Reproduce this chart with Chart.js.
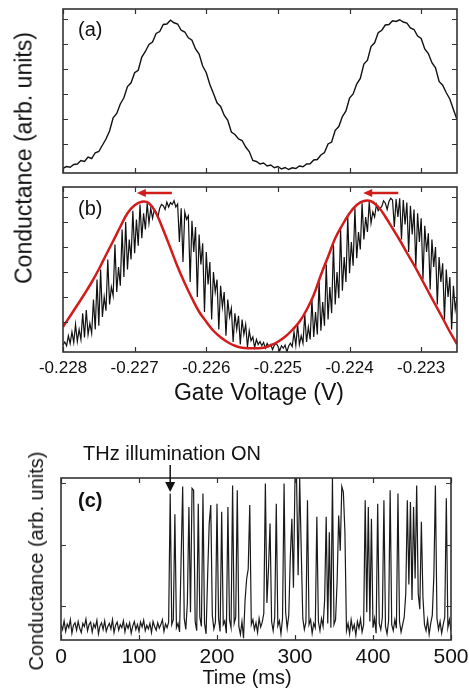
<!DOCTYPE html>
<html>
<head>
<meta charset="utf-8">
<script src="https://cdn.jsdelivr.net/npm/chart.js@4.4.1/dist/chart.umd.min.js"></script>
<style>
  html, body { margin: 0; padding: 0; background: #fff; }
  #fig { position: relative; width: 469px; height: 690px; overflow: hidden;
         font-family: "Liberation Sans", Arial, sans-serif; color: #111; }
  #fig canvas { position: absolute; left: 0; }
  .lbl { position: absolute; white-space: nowrap; line-height: 1; }
  .rot { transform: translate(-50%, -50%) rotate(-90deg); }
  .ctr { transform: translate(-50%, -50%); }
  .lft { transform: translateY(-50%); }
</style>
</head>
<body>
<div id="fig">
  <canvas id="chartA" width="469" height="180" style="top:0"></canvas>
  <canvas id="chartB" width="469" height="205" style="top:180px"></canvas>
  <canvas id="chartC" width="469" height="250" style="top:440px"></canvas>

  <div class="lbl rot" style="left:24px;top:158px;font-size:23px">Conductance (arb. units)</div>
  <div class="lbl ctr" style="left:259px;top:392px;font-size:23px">Gate Voltage (V)</div>
  <div class="lbl lft" style="left:78px;top:29px;font-size:20px">(a)</div>
  <div class="lbl lft" style="left:78px;top:208px;font-size:20px">(b)</div>

  <div class="lbl ctr" style="left:172px;top:453px;font-size:20px">THz illumination ON</div>
  <div class="lbl lft" style="left:78px;top:500px;font-size:20px;font-weight:bold">(c)</div>
  <div class="lbl rot" style="left:36px;top:561px;font-size:20px">Conductance (arb. units)</div>
  <div class="lbl ctr" style="left:247px;top:677px;font-size:20px">Time (ms)</div>
</div>

<script>
// ---- Gate-voltage sweeps (panels a and b) ----
const gateMin = -0.228;
const gateMax = -0.2225;
const gateTicks = [-0.228, -0.227, -0.226, -0.225, -0.224, -0.223];
const conductanceTicks = [0, 1, 2, 3, 4, 5];

// (a) dark conductance, sampled every 0.05 mV
const gateStepDark = 0.00005;
const conductanceDark = [
  -0.97, -0.90, -0.93, -0.82, -0.80, -0.66, -0.70, -0.52, -0.58, -0.35,
  -0.30, -0.05, 0.20, 0.52, 1.05, 1.22, 1.60, 1.85, 2.30, 2.45,
  2.85, 2.95, 3.48, 3.70, 3.98, 4.08, 4.42, 4.50, 4.78, 4.80,
  4.95, 4.85, 4.80, 4.55, 4.48, 4.25, 4.15, 3.80, 3.60, 3.12,
  2.85, 2.38, 2.02, 1.65, 1.50, 1.15, 0.95, 0.48, 0.38, 0.20,
  0.14, -0.12, -0.30, -0.66, -0.70, -0.80, -0.76, -0.88, -0.84, -0.95,
  -0.90, -1.00, -0.94, -1.02, -0.95, -0.98, -0.88, -0.91, -0.80, -0.79,
  -0.64, -0.62, -0.44, -0.34, 0.00, 0.08, 0.55, 0.70, 1.10, 1.32,
  1.84, 2.00, 2.40, 2.62, 3.20, 3.35, 3.90, 4.05, 4.45, 4.55,
  4.76, 4.78, 4.93, 4.90, 4.97, 4.88, 4.84, 4.64, 4.58, 4.32,
  4.22, 3.80, 3.62, 3.25, 3.05, 2.50, 2.35, 2.05, 1.80, 1.38,
  0.98
];

// (b) conductance under THz illumination, sampled every 0.025 mV
const gateStepLit = 0.000025;
const conductanceLit = [
  -0.92, -0.80, -0.95, -0.55, -0.86, -0.40, -0.82, -0.10, -0.78, -0.30,
  -0.70, 0.35, -0.62, 0.48, -0.50, -0.05, -0.45, 0.90, -0.30, 1.70,
  -0.15, 2.10, 0.20, 1.00, 0.45, 2.50, 0.70, 1.40, 1.05, 3.10,
  1.20, 2.20, 1.45, 3.70, 1.80, 4.00, 2.10, 3.30, 2.50, 4.45,
  2.75, 4.10, 3.05, 4.70, 3.35, 4.35, 3.70, 4.75, 3.95, 4.55,
  4.15, 4.50, 4.40, 4.20, 4.55, 4.70, 4.65, 4.50, 4.80, 4.60,
  4.78, 4.70, 4.85, 4.60, 4.72, 3.20, 4.55, 2.40, 4.40, 4.10,
  4.25, 1.60, 4.05, 2.80, 3.80, 1.00, 3.50, 2.30, 3.15, 0.40,
  2.80, 1.50, 2.40, 0.10, 2.00, 1.20, 1.70, -0.30, 1.45, 0.60,
  1.20, -0.55, 0.90, 0.20, 0.55, -0.80, 0.35, -0.30, 0.25, -0.90,
  0.10, -0.50, -0.10, -1.00, -0.35, -0.75, -0.60, -1.02, -0.70, -0.90,
  -0.78, -0.95, -0.82, -1.05, -0.86, -0.98, -0.90, -1.10, -0.93, -0.85,
  -0.97, -1.15, -0.95, -1.05, -0.92, -1.20, -0.96, -0.85, -0.98, -0.40,
  -0.94, -0.10, -0.90, -0.55, -0.85, 0.30, -0.80, -0.20, -0.70, 0.90,
  -0.60, 0.40, -0.50, 1.60, -0.35, 0.80, -0.15, 2.30, 0.10, 1.40,
  0.35, 3.10, 0.70, 2.00, 0.95, 3.70, 1.25, 2.60, 1.60, 4.20,
  1.95, 3.20, 2.25, 4.55, 2.55, 3.60, 2.90, 4.75, 3.30, 4.20,
  3.60, 4.80, 3.95, 4.40, 4.20, 4.70, 4.45, 4.55, 4.62, 4.85,
  4.75, 4.50, 4.82, 4.95, 4.88, 3.80, 4.92, 4.20, 4.95, 3.30,
  4.88, 3.90, 4.78, 2.80, 4.65, 3.50, 4.50, 2.20, 4.35, 3.20,
  4.15, 1.70, 3.85, 2.80, 3.55, 1.30, 3.30, 2.20, 3.00, 0.70,
  2.60, 1.60, 2.35, 0.10, 2.10, 1.00, 1.80, -0.30, 1.45, 0.50,
  1.00
];

// (b) shifted Coulomb peaks (red curve), sampled every 0.1 mV
const gateStepShifted = 0.0001;
const conductanceShifted = [
  -0.19, 0.24, 0.68, 1.12, 1.59, 2.11, 2.68, 3.24, 3.81, 4.35,
  4.67, 4.81, 4.75, 4.35, 3.68, 2.95, 2.21, 1.55, 0.95, 0.41,
  0.01, -0.35, -0.61, -0.81, -0.95, -1.03, -1.05, -1.05, -1.03, -0.93,
  -0.79, -0.59, -0.32, 0.01, 0.48, 1.08, 1.88, 2.61, 3.35, 3.88,
  4.35, 4.68, 4.84, 4.83, 4.61, 4.21, 3.75, 3.28, 2.77, 2.28,
  1.75, 1.21, 0.68, 0.15, -0.39, -0.88
];

// ---- Time trace (panel c), sampled every 2 ms ----
const timeStep = 2;
const timeTicks = [0, 100, 200, 300, 400, 500];
const conductanceTimeTicks = [0, 1, 2];
const illuminationOnTime = 140;
const conductanceTime = [
  -0.30, -0.38, -0.24, -0.41, -0.29, -0.35, -0.22, -0.44, -0.31, -0.27,
  -0.39, -0.25, -0.36, -0.43, -0.28, -0.33, -0.21, -0.40, -0.30, -0.26,
  -0.42, -0.29, -0.35, -0.23, -0.45, -0.32, -0.27, -0.38, -0.24, -0.41,
  -0.33, -0.28, -0.37, -0.22, -0.43, -0.31, -0.26, -0.39, -0.30, -0.35,
  -0.24, -0.42, -0.29, -0.36, -0.27, -0.44, -0.32, -0.25, -0.38, -0.30,
  -0.41, -0.26, -0.34, -0.23, -0.40, -0.31, -0.37, -0.28, -0.43, -0.25,
  -0.33, -0.39, -0.27, -0.36, -0.30, -0.22, -0.41, -0.29, -0.35, -0.26,
  1.83, -0.30, -0.22, 1.49, -0.35, -0.28, -0.42, 0.77, 1.94, -0.20,
  -0.38, 0.05, 1.61, -0.10, 1.91, 1.88, -0.25, -0.40, 1.66, -0.18,
  -0.33, 1.83, -0.28, -0.45, 0.50, 1.34, 1.64, -0.15, -0.37, -0.26,
  1.66, -0.20, -0.41, 1.53, -0.30, -0.24, -0.44, 1.61, -0.22, -0.35,
  1.96, -0.28, -0.18, 1.88, -0.33, -0.46, -0.25, -0.52, 0.10, 0.44,
  0.60, 1.64, -0.30, -0.22, -0.38, -0.27, -0.43, -0.20, -0.34, -0.26,
  -0.12, 1.99, 0.05, 0.60, 1.34, -0.25, -0.40, -0.18, 1.66, -0.32,
  -0.24, -0.45, -0.20, 1.99, -0.10, -0.36, -0.15, 0.80, 1.42, 0.30,
  2.08, 2.08, 0.50, 2.08, 0.90, -0.20, -0.38, -0.26, 1.72, -0.30,
  -0.22, -0.44, -0.28, -0.35, 1.45, -0.25, -0.40, -0.20, -0.33, 0.10,
  1.45, -0.28, 1.20, -0.35, 2.08, -0.30, -0.22, 0.40, 1.47, 0.90,
  1.94, 1.85, 1.20, -0.40, -0.28, -0.45, -0.22, -0.38, -0.30, -0.47,
  -0.25, -0.36, -0.21, -0.42, -0.30, 1.72, -0.10, 1.61, -0.25, 1.42,
  -0.35, -0.20, -0.44, 1.66, -0.28, -0.38, -0.18, 1.72, -0.33, -0.45,
  -0.24, 1.88, -0.30, -0.40, -0.22, -0.36, 1.83, -0.25, -0.42, -0.30,
  -0.18, 0.20, 1.72, 0.35, 1.69, 0.10, 1.61, 0.45, 1.96, 0.20,
  -0.05, 1.37, 0.15, -0.30, -0.40, -0.22, -0.46, -0.28, -0.15, 0.49,
  1.96, -0.20, -0.38, -0.25, -0.44, -0.30, -0.18, 1.75, -0.35, -0.22,
  -0.40
];

// Pair evenly spaced samples with their x positions.
function toPoints(start, step, values) {
  return values.map((v, i) => ({ x: start + i * step, y: v }));
}

// Boxed frame with inward tick marks on all four sides.
function framePlugin(xTicks, yTicks) {
  return {
    id: 'frame',
    afterDatasetsDraw(chart) {
      const { ctx, chartArea: a, scales: { x, y } } = chart;
      const L = 5;
      ctx.save();
      ctx.strokeStyle = '#333';
      ctx.lineWidth = 1.2;
      ctx.beginPath();
      xTicks.forEach(v => {
        const px = Math.round(x.getPixelForValue(v)) + 0.5;
        ctx.moveTo(px, a.bottom); ctx.lineTo(px, a.bottom - L);
        ctx.moveTo(px, a.top); ctx.lineTo(px, a.top + L);
      });
      yTicks.forEach(v => {
        const py = Math.round(y.getPixelForValue(v)) + 0.5;
        ctx.moveTo(a.left, py); ctx.lineTo(a.left + L, py);
        ctx.moveTo(a.right, py); ctx.lineTo(a.right - L, py);
      });
      ctx.stroke();
      ctx.lineWidth = 1.6;
      ctx.strokeRect(a.left, a.top, a.right - a.left, a.bottom - a.top);
      ctx.restore();
    }
  };
}

// Horizontal arrow pointing toward lower gate voltage (peak shift).
const peakShiftArrows = [
  { from: -0.22648, to: -0.22697 },
  { from: -0.22332, to: -0.22381 }
];
const arrowLevel = 5.16;
const shiftArrowPlugin = {
  id: 'shiftArrows',
  afterDatasetsDraw(chart) {
    const { ctx, scales: { x, y } } = chart;
    const py = y.getPixelForValue(arrowLevel);
    ctx.save();
    ctx.strokeStyle = '#d21c1c';
    ctx.fillStyle = '#d21c1c';
    ctx.lineWidth = 2.5;
    peakShiftArrows.forEach(a => {
      const x0 = x.getPixelForValue(a.from);
      const x1 = x.getPixelForValue(a.to);
      ctx.beginPath();
      ctx.moveTo(x0, py); ctx.lineTo(x1 + 6, py);
      ctx.stroke();
      ctx.beginPath();
      ctx.moveTo(x1, py);
      ctx.lineTo(x1 + 9, py - 4);
      ctx.lineTo(x1 + 9, py + 4);
      ctx.closePath();
      ctx.fill();
    });
    ctx.restore();
  }
};

// Downward arrow marking the moment the THz source is switched on.
const onsetArrowPlugin = {
  id: 'onsetArrow',
  afterDraw(chart) {
    const { ctx, chartArea: a, scales: { x } } = chart;
    const px = x.getPixelForValue(illuminationOnTime);
    ctx.save();
    ctx.strokeStyle = '#111';
    ctx.fillStyle = '#111';
    ctx.lineWidth = 1.5;
    ctx.beginPath();
    ctx.moveTo(px, a.top - 13); ctx.lineTo(px, a.top + 6);
    ctx.stroke();
    ctx.beginPath();
    ctx.moveTo(px - 5, a.top + 4);
    ctx.lineTo(px + 5, a.top + 4);
    ctx.lineTo(px, a.top + 14);
    ctx.closePath();
    ctx.fill();
    ctx.restore();
  }
};

const tickFont = (size) => ({ family: '"Liberation Sans", Arial, sans-serif', size });
const baseOptions = {
  responsive: false,
  animation: false,
  devicePixelRatio: 1,
  events: [],
  elements: { point: { radius: 0 }, line: { tension: 0 } },
  plugins: { legend: { display: false }, tooltip: { enabled: false } }
};

function bottomAxis(min, max, ticks, height, font, pad, fmt) {
  return {
    type: 'linear', min, max,
    grid: { display: false, drawTicks: false },
    border: { display: false },
    ticks: { color: '#111', font: tickFont(font), padding: pad, maxRotation: 0,
             autoSkip: false, callback: fmt },
    afterBuildTicks: s => { s.ticks = ticks.map(v => ({ value: v })); },
    afterFit: s => { s.height = height; s.paddingLeft = 0; s.paddingRight = 0; }
  };
}

// Panel (a)
new Chart(document.getElementById('chartA'), {
  type: 'line',
  data: { datasets: [{
    data: toPoints(gateMin, gateStepDark, conductanceDark),
    borderColor: '#111', borderWidth: 1.4
  }]},
  options: Object.assign({}, baseOptions, {
    layout: { padding: { left: 63, right: 12, top: 9, bottom: 7 } },
    scales: {
      x: { type: 'linear', min: gateMin, max: gateMax, display: false },
      y: { type: 'linear', min: -1.16, max: 5.4, display: false }
    }
  }),
  plugins: [framePlugin(gateTicks, conductanceTicks)]
});

// Panel (b)
new Chart(document.getElementById('chartB'), {
  type: 'line',
  data: { datasets: [
    { data: toPoints(gateMin, gateStepShifted, conductanceShifted),
      borderColor: '#d21c1c', borderWidth: 2.5, tension: 0.4 },
    { data: toPoints(gateMin, gateStepLit, conductanceLit),
      borderColor: '#111', borderWidth: 1.2 }
  ]},
  options: Object.assign({}, baseOptions, {
    layout: { padding: { left: 63, right: 12, top: 7, bottom: 0 } },
    scales: {
      x: bottomAxis(gateMin, gateMax, gateTicks, 33, 17, 6, v => v.toFixed(3)),
      y: { type: 'linear', min: -1.2, max: 5.4, display: false }
    }
  }),
  plugins: [framePlugin(gateTicks, conductanceTicks), shiftArrowPlugin]
});

// Panel (c)
new Chart(document.getElementById('chartC'), {
  type: 'line',
  data: { datasets: [{
    data: toPoints(0, timeStep, conductanceTime),
    borderColor: '#1a1a1a', borderWidth: 1.2
  }]},
  options: Object.assign({}, baseOptions, {
    layout: { padding: { left: 61, right: 18, top: 38, bottom: 0 } },
    scales: {
      x: bottomAxis(0, 500, timeTicks, 50, 21, 5, v => String(v)),
      y: { type: 'linear', min: -0.55, max: 2.08, display: false }
    }
  }),
  plugins: [framePlugin(timeTicks, conductanceTimeTicks), onsetArrowPlugin]
});
</script>
</body>
</html>
